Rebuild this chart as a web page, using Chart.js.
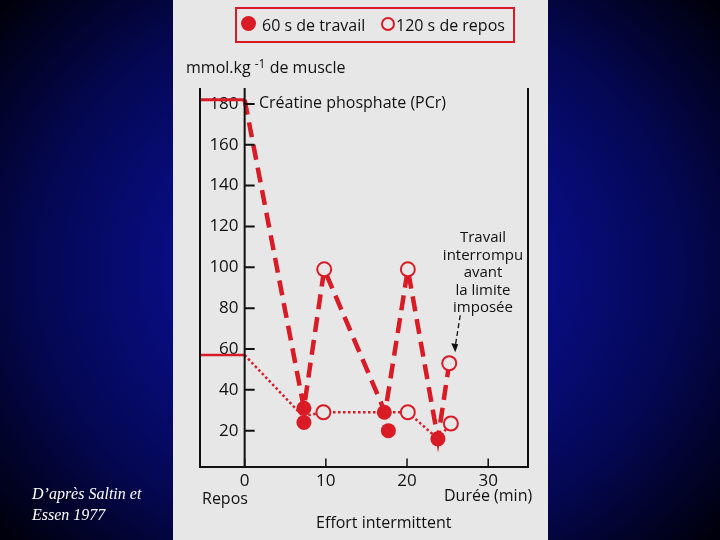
<!DOCTYPE html>
<html>
<head>
<meta charset="utf-8">
<script src="https://cdn.jsdelivr.net/npm/chart.js@4/dist/chart.umd.min.js"></script>
<style>
    html, body { margin: 0; padding: 0; }
    body {
        width: 720px; height: 540px; overflow: hidden; position: relative;
        background: radial-gradient(ellipse 65% 75% at 50% 50%, #0c12aa 0%, #080e8a 35%, #040750 70%, #00000c 100%);
        font-family: 'Open Sans', sans-serif;
    }
    #panel { position: absolute; left: 173px; top: 0; width: 375px; height: 540px; background: #e7e7e8; }
    #panel canvas { position: absolute; left: 0; top: 0; }
    .t { position: absolute; color: #111; white-space: nowrap; line-height: 1; }
    .legend { position: absolute; left: 62px; top: 7px; width: 276px; height: 32px; border: 2px solid #d81b24; }
    .dot { position: absolute; width: 15px; height: 15px; border-radius: 50%; box-sizing: border-box; }
    .note { position: absolute; left: 268px; top: 228px; width: 84px; text-align: center; font-size: 15px; line-height: 17.5px; color: #111; }
    .credit { position: absolute; left: 32px; top: 483px; font: italic 16px 'Liberation Serif', serif; line-height: 21px; color: #fff; }
</style>
</head>
<body>
<div id="panel">
    <canvas id="chart" width="375" height="540"></canvas>
    <div class="legend">
        <span class="dot" style="left:4px;top:7px;background:#d81b24"></span>
        <span class="t" style="left:25px;top:8px;font-size:16px">60 s de travail</span>
        <span class="dot" style="left:144px;top:8px;width:14px;height:14px;border:2px solid #d81b24"></span>
        <span class="t" style="left:159px;top:8px;font-size:16px">120 s de repos</span>
    </div>
    <span class="t" style="left:13px;top:58px;font-size:16px">mmol.kg <sup style="font-size:12px;vertical-align:5px">-1</sup> de muscle</span>
    <span class="t" style="left:86px;top:94px;font-size:16px">Créatine phosphate (PCr)</span>
    <div class="note">Travail<br>interrompu<br>avant<br>la limite<br>imposée</div>
    <span class="t" style="left:29px;top:490px;font-size:16px">Repos</span>
    <span class="t" style="left:271px;top:487px;font-size:16px">Durée (min)</span>
    <span class="t" style="left:143px;top:514px;font-size:16px">Effort intermittent</span>
</div>
<div class="credit">D’après Saltin et<br>Essen 1977</div>

<script>
// axes
const xTicks = [0, 10, 20, 30];
const yTicks = [20, 40, 60, 80, 100, 120, 140, 160, 180];

// créatine phosphate, tirets
const pcrX = [0, 7.3, 9.8, 17.3, 20.1, 23.8, 25.2];
const pcrY = [182, 31, 99, 29, 99, 16, 53];

// courbe en pointillés
const lowX = [0, 7.2, 9.7, 17.2, 20.1, 23.8, 25.4];
const lowY = [57, 27, 29, 29, 29, 16, 23.5];

// niveaux au repos (avant l'effort)
const restX = [-5.5, 0];
const restLevels = [182, 57];

// points pleins : 60 s de travail
const workX = [7.3, 7.3, 17.2, 17.7, 23.8];
const workY = [31, 24, 29, 20, 16];

// points vides : 120 s de repos
const pauseX = [9.8, 9.7, 20.1, 20.1, 25.2, 25.4];
const pauseY = [99, 29, 99, 29, 53, 23.5];

const red = '#d81b24';
const ink = '#111';
const pts = (xs, ys) => xs.map((x, i) => ({ x: x, y: ys[i] }));

const frame = {
    id: 'frame',
    afterDraw(chart) {
        const { ctx, chartArea: a, scales: { x, y } } = chart;
        const x0 = x.getPixelForValue(0);
        ctx.save();
        ctx.strokeStyle = ink;
        ctx.lineWidth = 2;
        ctx.beginPath();
        ctx.moveTo(a.left, a.top); ctx.lineTo(a.left, a.bottom);
        ctx.moveTo(a.right, a.top); ctx.lineTo(a.right, a.bottom);
        ctx.moveTo(x0, a.top); ctx.lineTo(x0, a.bottom);
        yTicks.forEach(v => {
            const py = y.getPixelForValue(v);
            ctx.moveTo(x0, py); ctx.lineTo(x0 + 10, py);
        });
        ctx.stroke();
        ctx.lineWidth = 1.5;
        ctx.beginPath();
        xTicks.forEach(v => {
            const px = x.getPixelForValue(v);
            ctx.moveTo(px, a.bottom); ctx.lineTo(px, a.bottom - 8);
        });
        ctx.stroke();

        // flèche vers le dernier point de repos
        const tx = x.getPixelForValue(pauseX[4]);
        const ty = y.getPixelForValue(pauseY[4]);
        const sx = tx + 11, sy = ty - 48, ex = tx + 6, ey = ty - 11;
        ctx.lineWidth = 1.3;
        ctx.setLineDash([5, 3]);
        ctx.beginPath();
        ctx.moveTo(sx, sy); ctx.lineTo(ex, ey - 6);
        ctx.stroke();
        ctx.setLineDash([]);
        ctx.fillStyle = ink;
        ctx.beginPath();
        ctx.moveTo(ex, ey); ctx.lineTo(ex - 4, ey - 9); ctx.lineTo(ex + 3, ey - 8);
        ctx.closePath();
        ctx.fill();
        ctx.restore();
    }
};

new Chart(document.getElementById('chart'), {
    type: 'scatter',
    data: {
        datasets: [
            { data: pts(workX, workY), pointRadius: 7.5, pointBackgroundColor: red, pointBorderWidth: 0, order: 0 },
            { data: pts(pauseX, pauseY), pointRadius: 7, pointBackgroundColor: '#e7e7e8', pointBorderColor: red, pointBorderWidth: 2, order: 0 },
            { data: pts(pcrX, pcrY), showLine: true, borderColor: red, borderWidth: 4.5, borderDash: [15, 8], pointRadius: 0, order: 2 },
            { data: pts(lowX, lowY), showLine: true, borderColor: red, borderWidth: 2.5, borderDash: [2.5, 2.5], pointRadius: 0, order: 2 },
            { data: pts(restX, [restLevels[0], restLevels[0]]), showLine: true, borderColor: red, borderWidth: 3, pointRadius: 0, order: 3 },
            { data: pts(restX, [restLevels[1], restLevels[1]]), showLine: true, borderColor: red, borderWidth: 2.5, pointRadius: 0, order: 3 }
        ]
    },
    options: {
        responsive: false,
        animation: false,
        layout: { padding: { left: 27, right: 20, top: 88, bottom: 53 } },
        scales: {
            x: {
                type: 'linear',
                min: -5.5,
                max: 34.9,
                afterBuildTicks: s => { s.ticks = xTicks.map(v => ({ value: v })); },
                grid: { display: false },
                border: { display: true, color: ink, width: 2 },
                ticks: { color: ink, font: { family: 'Open Sans', size: 17 }, padding: -4 }
            },
            y: {
                // étiquettes juste à gauche de l'axe x = 0
                position: { x: -0.75 },
                min: 2.4,
                max: 187.8,
                afterBuildTicks: s => { s.ticks = yTicks.map(v => ({ value: v })); },
                grid: { display: false },
                border: { display: false },
                ticks: { color: ink, font: { family: 'Open Sans', size: 17 } }
            }
        },
        plugins: {
            legend: { display: false },
            tooltip: { enabled: false }
        }
    },
    plugins: [frame]
});
</script>
</body>
</html>
